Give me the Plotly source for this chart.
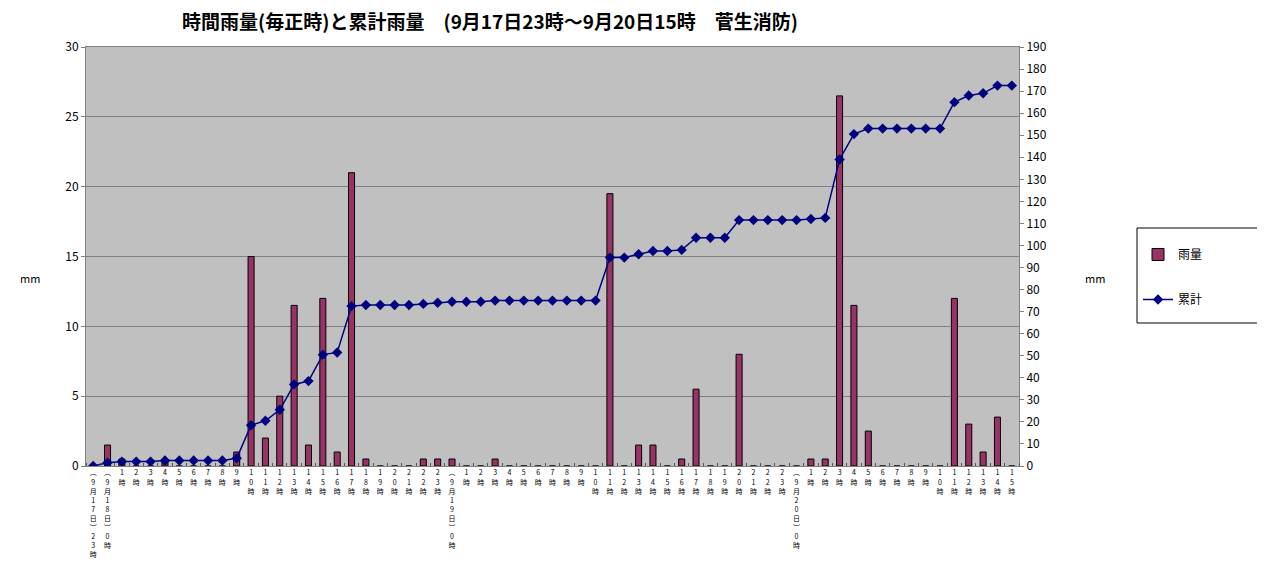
import plotly.graph_objects as go

# ---- data ----
categories = [
    "(9月17日)23時",
    "(9月18日)0時", "1時", "2時", "3時", "4時", "5時", "6時", "7時", "8時", "9時",
    "10時", "11時", "12時", "13時", "14時", "15時", "16時", "17時", "18時", "19時",
    "20時", "21時", "22時", "23時",
    "(9月19日)0時", "1時", "2時", "3時", "4時", "5時", "6時", "7時", "8時", "9時",
    "10時", "11時", "12時", "13時", "14時", "15時", "16時", "17時", "18時", "19時",
    "20時", "21時", "22時", "23時",
    "(9月20日)0時", "1時", "2時", "3時", "4時", "5時", "6時", "7時", "8時", "9時",
    "10時", "11時", "12時", "13時", "14時", "15時",
]

rain = [
    0,
    1.5, 0.5, 0, 0, 0.5, 0, 0, 0, 0, 1.0,
    15, 2, 5, 11.5, 1.5, 12, 1, 21, 0.5, 0,
    0, 0, 0.5, 0.5,
    0.5, 0, 0, 0.5, 0, 0, 0, 0, 0, 0,
    0, 19.5, 0, 1.5, 1.5, 0, 0.5, 5.5, 0, 0,
    8, 0, 0, 0,
    0, 0.5, 0.5, 26.5, 11.5, 2.5, 0, 0, 0, 0,
    0, 12, 3, 1, 3.5, 0,
]

cumulative = [
    0,
    1.5, 2.0, 2.0, 2.0, 2.5, 2.5, 2.5, 2.5, 2.5, 3.5,
    18.5, 20.5, 25.5, 37, 38.5, 50.5, 51.5, 72.5, 73, 73,
    73, 73, 73.5, 74,
    74.5, 74.5, 74.5, 75, 75, 75, 75, 75, 75, 75,
    75, 94.5, 94.5, 96, 97.5, 97.5, 98, 103.5, 103.5, 103.5,
    111.5, 111.5, 111.5, 111.5,
    111.5, 112, 112.5, 139, 150.5, 153, 153, 153, 153, 153,
    153, 165, 168, 169, 172.5, 172.5,
]

left_ticks = [0, 5, 10, 15, 20, 25, 30]
right_ticks = list(range(0, 191, 10))

title_text = "時間雨量(毎正時)と累計雨量　(9月17日23時～9月20日15時　菅生消防)"
FONT = "Noto Sans CJK JP"

# page body has an 8px default margin; work in window pixels and convert
OFF = 8
W, H = 1265 - OFF, 563 - OFF
PL, PR, PT, PB = 86, 1019, 47, 466          # plot area in window pixels
PW, PH = PR - PL, PB - PT


def px_x(x):
    return (x - PL) / PW


def px_y(y):
    return (PB - y) / PH


def vertical(label):
    out = []
    for ch in label:
        if ch == "(":
            ch = "︵"
        elif ch == ")":
            ch = "︶"
        out.append(ch)
    return "<br>".join(out)


idx = list(range(len(categories)))
tick_text = [vertical(c) for c in categories]

fig = go.Figure()
fig.add_trace(go.Bar(
    x=idx, y=rain, name="雨量", yaxis="y",
    width=0.42,
    marker=dict(color="#993366", line=dict(color="#000000", width=1)),
    legendgroup="a",
))
fig.add_trace(go.Scatter(
    x=idx, y=cumulative, name="累計", yaxis="y2",
    mode="lines+markers",
    line=dict(color="#000080", width=1.5),
    marker=dict(symbol="diamond", size=8, color="#000080"),
    legendgroup="b",
))

fig.update_layout(
    width=W, height=H,
    margin=dict(l=PL - OFF, r=W - (PR - OFF), t=PT - OFF, b=H - (PB - OFF), autoexpand=False),
    paper_bgcolor="#FFFFFF",
    plot_bgcolor="#C0C0C0",
    font=dict(family=FONT, color="#000000", size=12),
    title=dict(text=title_text, x=(490 - OFF) / W, xanchor="center", xref="container",
               y=1 - (22 - OFF) / H, yanchor="middle", yref="container",
               font=dict(family=FONT, size=19, color="#000000", weight="bold")),
    showlegend=True,
    legend=dict(x=px_x(1138), y=px_y(240), xanchor="left", yanchor="top",
                bgcolor="rgba(0,0,0,0)", borderwidth=0,
                font=dict(family=FONT, size=12, color="#000000"),
                traceorder="grouped", tracegroupgap=26,
                itemwidth=30),
    xaxis=dict(
        range=[-0.5, len(categories) - 0.5],
        tickmode="array", tickvals=idx, ticktext=tick_text,
        tickfont=dict(family=FONT, size=7, color="#000000"),
        tickangle=0,
        ticks="", showgrid=False, zeroline=False,
        showline=True, linecolor="#808080", linewidth=1, mirror=True,
        minor=dict(ticks="inside", tick0=-0.5, dtick=1, ticklen=3, tickcolor="#555555", showgrid=False),
        fixedrange=True,
    ),
    yaxis=dict(
        range=[0, 30], tickmode="array", tickvals=left_ticks,
        showgrid=True, gridcolor="#808080", gridwidth=1,
        zeroline=False, showline=True, linecolor="#808080", linewidth=1,
        ticks="outside", ticklen=4, tickcolor="#808080",
        tickfont=dict(family=FONT, size=12, color="#000000"),
    ),
    yaxis2=dict(
        range=[0, 190], tickmode="array", tickvals=right_ticks,
        overlaying="y", side="right",
        showgrid=False, zeroline=False, showline=True, linecolor="#808080", linewidth=1,
        ticks="outside", ticklen=4, tickcolor="#808080",
        tickfont=dict(family=FONT, size=12, color="#000000"),
    ),
    shapes=[
        dict(type="rect", xref="paper", yref="paper",
             x0=px_x(1137), x1=px_x(1264), y0=px_y(323), y1=px_y(228),
             line=dict(color="#000000", width=1), fillcolor="#FFFFFF", layer="below"),
    ],
    annotations=[
        dict(text="mm", x=px_x(30), y=px_y(278), xref="paper", yref="paper", showarrow=False,
             xanchor="center", yanchor="middle", font=dict(family=FONT, size=11)),
        dict(text="mm", x=px_x(1095), y=px_y(278), xref="paper", yref="paper", showarrow=False,
             xanchor="center", yanchor="middle", font=dict(family=FONT, size=11)),
    ],
)

fig.write_html("out.html")
